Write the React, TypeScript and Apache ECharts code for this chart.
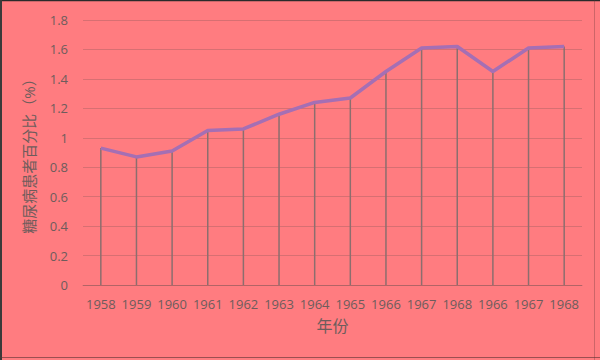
import React, { useEffect, useRef } from "react";
import * as echarts from "echarts";

const categories = ["1958", "1959", "1960", "1961", "1962", "1963", "1964", "1965", "1966", "1967", "1968", "1966", "1967", "1968"];
const values = [0.93, 0.87, 0.91, 1.05, 1.06, 1.16, 1.24, 1.27, 1.45, 1.61, 1.62, 1.45, 1.61, 1.62];
const yTicks = { min: 0, max: 1.8, interval: 0.2 };

const FONT = "'Open Sans', 'Noto Sans CJK SC', sans-serif";
const TEXT = "#6e5c5c";

export default function App() {
  const ref = useRef<HTMLDivElement>(null);
  useEffect(() => {
    if (!ref.current) return;
    const chart = echarts.init(ref.current, undefined, { renderer: "svg" });
    chart.setOption({
      animation: false,
      backgroundColor: "#FF7C80",
      grid: { left: 83, right: 18, top: 20, bottom: 75 },
      xAxis: {
        type: "category",
        data: categories,
        name: "年份",
        nameLocation: "middle",
        nameGap: 33,
        nameTextStyle: { color: TEXT, fontSize: 16, fontFamily: FONT },
        axisLine: { show: true, lineStyle: { color: "rgba(110,80,80,0.35)", width: 1 } },
        axisTick: { show: false },
        axisLabel: { color: TEXT, fontSize: 13, fontFamily: FONT, margin: 12, interval: 0 },
        splitLine: { show: false },
      },
      yAxis: {
        type: "value",
        min: yTicks.min,
        max: yTicks.max,
        interval: yTicks.interval,
        name: "糖尿病患者百分比（%）",
        nameLocation: "middle",
        nameGap: 47,
        nameTextStyle: { color: TEXT, fontSize: 15, fontFamily: FONT },
        axisLine: { show: false },
        axisTick: { show: false },
        axisLabel: {
          color: TEXT,
          fontSize: 13,
          fontFamily: FONT,
          margin: 15,
          formatter: (v: number) => String(Math.round(v * 10) / 10),
        },
        splitLine: { show: true, lineStyle: { color: "rgba(110,80,80,0.28)", width: 1 } },
      },
      series: [
        {
          type: "bar",
          data: values,
          barWidth: 1.5,
          itemStyle: { color: "#8c6e6e" },
          z: 2,
          silent: true,
        },
        {
          type: "line",
          data: values,
          symbol: "none",
          lineStyle: { color: "#A56FB4", width: 3.5 },
          z: 3,
        },
      ],
      graphic: [
        { type: "line", shape: { x1: 0, y1: 0.5, x2: 600, y2: 0.5 }, style: { stroke: "#2a2a2a", lineWidth: 1.5 } },
        { type: "line", shape: { x1: 1, y1: 0, x2: 1, y2: 360 }, style: { stroke: "#3a3a3a", lineWidth: 2 } },
        { type: "line", shape: { x1: 0, y1: 357.5, x2: 600, y2: 357.5 }, style: { stroke: "rgba(90,50,50,0.6)", lineWidth: 1 } },
        { type: "line", shape: { x1: 594.5, y1: 0, x2: 594.5, y2: 360 }, style: { stroke: "rgba(90,50,50,0.3)", lineWidth: 1 } },
      ],
    });
    return () => chart.dispose();
  }, []);
  return (
    <div
      ref={ref}
      style={{ position: "absolute", left: 0, top: 0, width: 600, height: 360 }}
    />
  );
}
